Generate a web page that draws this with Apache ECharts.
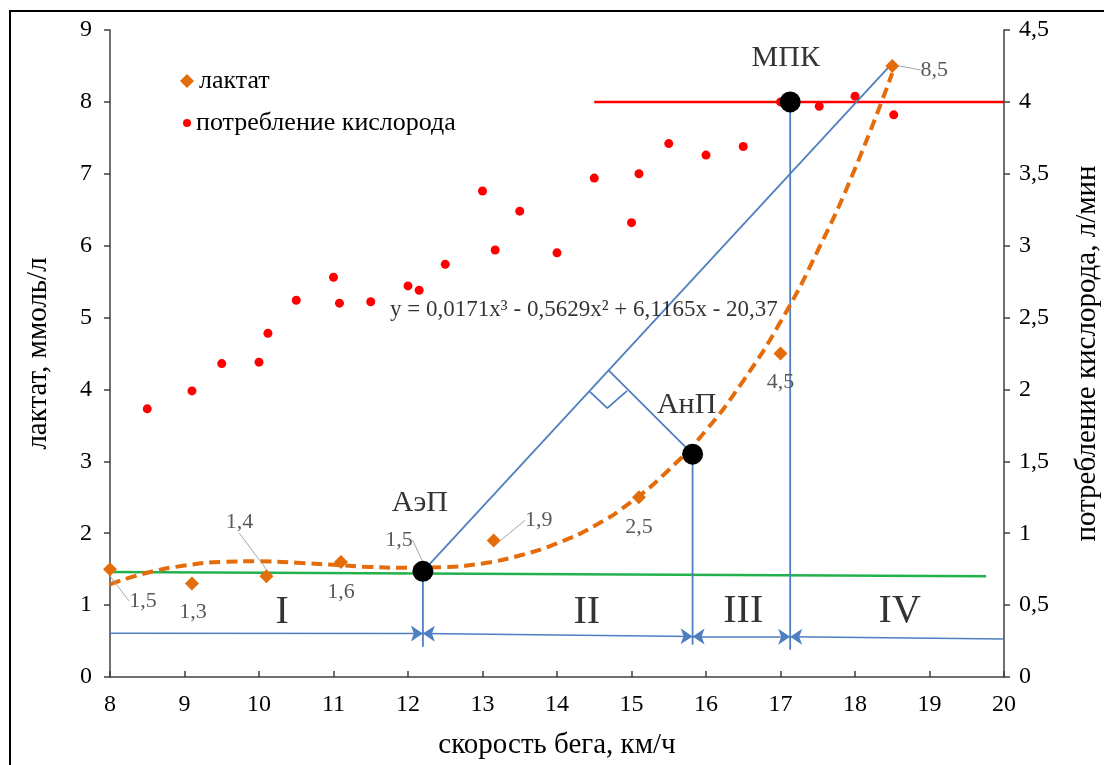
<!DOCTYPE html>
<html>
<head>
<meta charset="utf-8">
<script src="https://cdn.jsdelivr.net/npm/echarts/dist/echarts.min.js"></script>
<style>
html, body { margin: 0; padding: 0; background: #fff; }
#chart { width: 1104px; height: 765px; }
</style>
</head>
<body>
<div id="chart"></div>
<script>
// лактат (левая ось)
const lactSpeed = [8, 9.1, 10.1, 11.1, 12.2, 13.15, 15.1, 17, 18.5]
const lactate = [1.5, 1.3, 1.4, 1.6, 1.5, 1.9, 2.5, 4.5, 8.5]
const lactLabels = ['1,5', '1,3', '1,4', '1,6', '1,5', '1,9', '2,5', '4,5', '8,5']

// потребление кислорода (правая ось)
const o2Speed = [8.5, 9.1, 9.5, 10, 10.12, 10.5, 11, 11.08, 11.5, 12, 12.15, 12.5, 13, 13.17,
  13.5, 14, 14.5, 15, 15.1, 15.5, 16, 16.5, 17, 17.52, 18, 18.52]
const o2 = [1.865, 1.99, 2.18, 2.19, 2.39, 2.62, 2.78, 2.6, 2.61, 2.72, 2.69, 2.87, 3.38, 2.97,
  3.24, 2.95, 3.47, 3.16, 3.5, 3.71, 3.63, 3.69, 4.0, 3.97, 4.04, 3.91]

// линия тренда
const trendSpeed = [8, 8.5, 9, 9.5, 10, 10.5, 11, 11.5, 12, 12.5, 13, 13.5, 14, 14.5, 15, 15.5,
  16, 16.5, 17, 17.5, 18, 18.5]
const trendLact = [1.29, 1.45, 1.55, 1.6, 1.61, 1.59, 1.56, 1.53, 1.52, 1.53, 1.58, 1.69, 1.86,
  2.1, 2.44, 2.88, 3.43, 4.12, 4.94, 5.93, 7.07, 8.4]

// пороги: АэП, АнП, МПК
const thrSpeed = [12.2, 15.82, 17.13]
const thrLact = [1.47, 3.1, 8.0]

// вспомогательные построения
const greenLine = [[8, 1.46], [19.76, 1.40]]
const redLine = [[14.5, 8.0], [20, 8.0]]
const tangent = [[12.2, 1.47], [18.52, 8.56]]
const normal = [[15.82, 3.1], [14.69, 4.27]]
const rightAngle = [[14.44, 3.97], [14.675, 3.74], [14.94, 3.98]]
const drops = [
  [[12.2, 1.47], [12.2, 0.42]],
  [[15.82, 3.1], [15.82, 0.45]],
  [[17.13, 8.0], [17.13, 0.38]]
]
const spanIn = [[[8, 0.61], [12.2, 0.605]]]
const spanBoth = [[[12.2, 0.605], [15.82, 0.565]], [[15.82, 0.565], [17.13, 0.56]]]
const spanOut = [[[17.13, 0.56], [20, 0.53]]]

// подписи
const notes = [
  { name: 'МПК', value: [17.07, 8.61], size: 30 },
  { name: 'АнП', value: [15.74, 3.78], size: 30 },
  { name: 'АэП', value: [12.16, 2.42], size: 30 },
  { name: 'I', value: [10.31, 0.9], size: 40 },
  { name: 'II', value: [14.4, 0.9], size: 40 },
  { name: 'III', value: [16.5, 0.91], size: 40 },
  { name: 'IV', value: [18.6, 0.91], size: 40 }
]
const equation = 'y = 0,0171x³ - 0,5629x² + 6,1165x - 20,37'
const equationAt = [11.76, 5.11]

const labelShift = [[33, 32], [1, 29], [-27, -54], [0, 30], [-24, -29], [45, -20], [0, 30], [0, 29], [42, 4]]
const leader = [true, false, true, false, true, true, false, false, true]

const FONT = '"Liberation Serif", "Times New Roman", serif'
const ORANGE = '#e46c0a'
const BLUE = '#4e7fc0'

const chart = echarts.init(document.getElementById('chart'))

function seg (data, color, width) {
  return {
    type: 'line', data: data, showSymbol: false, symbol: 'none', silent: true,
    lineStyle: { color: color, width: width }, z: 3
  }
}
function arrows (data, sym) {
  return {
    type: 'lines', coordinateSystem: 'cartesian2d', silent: true, z: 3,
    symbol: sym, symbolSize: 12,
    lineStyle: { color: BLUE, width: 1.5, opacity: 1 },
    data: data.map(c => ({ coords: c }))
  }
}

const series = [
  seg(greenLine, '#22b14c', 2.5),
  seg(redLine, '#ff0000', 2.5),
  seg(tangent, BLUE, 1.8),
  seg(normal, BLUE, 1.8),
  seg(rightAngle, BLUE, 1.8),
  ...drops.map(d => seg(d, BLUE, 1.8)),
  arrows(spanIn, ['none', 'arrow']),
  arrows(spanBoth, ['arrow', 'arrow']),
  arrows(spanOut, ['arrow', 'none']),
  {
    type: 'line', name: 'trend', smooth: true, showSymbol: false, silent: true, z: 4,
    data: trendSpeed.map((x, i) => [x, trendLact[i]]),
    lineStyle: { color: ORANGE, width: 4, type: [11, 6] }
  },
  {
    type: 'scatter', name: 'потребление кислорода', yAxisIndex: 1, symbol: 'circle', symbolSize: 9, z: 4,
    itemStyle: { color: '#ff0000', opacity: 1 },
    data: o2Speed.map((x, i) => [x, o2[i]])
  },
  {
    type: 'scatter', name: 'лактат', symbol: 'diamond', symbolSize: 14, z: 5,
    itemStyle: { color: ORANGE, opacity: 1 },
    data: lactSpeed.map((x, i) => ({ value: [x, lactate[i]], labelLine: { show: leader[i] } })),
    label: {
      show: true, position: 'inside', formatter: p => lactLabels[p.dataIndex],
      fontFamily: FONT, fontSize: 22, color: '#595959'
    },
    labelLine: { show: false, lineStyle: { color: '#a6a6a6', width: 1 } },
    labelLayout: p => ({ dx: labelShift[p.dataIndex][0], dy: labelShift[p.dataIndex][1] })
  },
  {
    type: 'scatter', name: 'thresholds', symbol: 'circle', symbolSize: 21, z: 6, silent: true,
    itemStyle: { color: '#000', opacity: 1 },
    data: thrSpeed.map((x, i) => [x, thrLact[i]])
  },
  {
    type: 'scatter', name: 'notes', symbolSize: 0, silent: true, z: 7,
    data: notes.map(n => ({
      name: n.name, value: n.value,
      label: { fontSize: n.size }
    })).concat([{
      name: equation, value: equationAt,
      label: { fontSize: 23, align: 'left' }
    }]),
    label: {
      show: true, position: [0, 0], formatter: '{b}', align: 'center', verticalAlign: 'middle',
      fontFamily: FONT, color: '#000'
    }
  }
]

const axisCommon = {
  type: 'value',
  splitLine: { show: false },
  axisLine: { show: true, lineStyle: { color: '#404040', width: 1.5 } },
  axisTick: { show: true, length: 6, lineStyle: { color: '#404040', width: 1.5 } },
  axisLabel: { fontFamily: FONT, fontSize: 24, color: '#000' },
  nameLocation: 'middle',
  nameTextStyle: { fontFamily: FONT, fontSize: 29, color: '#000' }
}

const option = {
  animation: false,
  backgroundColor: '#fff',
  grid: { left: 110, right: 100, top: 30, bottom: 88, containLabel: false, outerBoundsMode: 'none' },
  legend: [
    {
      data: [{ name: 'лактат', icon: 'diamond' }],
      left: 180, top: 68, padding: 0, itemWidth: 14, itemHeight: 14,
      selectedMode: false,
      textStyle: { fontFamily: FONT, fontSize: 26, color: '#000' }
    },
    {
      data: [{ name: 'потребление кислорода', icon: 'circle' }],
      left: 183, top: 110, padding: 0, itemWidth: 8, itemHeight: 8,
      selectedMode: false,
      textStyle: { fontFamily: FONT, fontSize: 26, color: '#000' }
    }
  ],
  xAxis: Object.assign({}, axisCommon, {
    min: 8, max: 20, interval: 1,
    name: 'скорость бега, км/ч', nameGap: 54,
    axisTick: Object.assign({}, axisCommon.axisTick, { inside: true }),
    axisLabel: Object.assign({}, axisCommon.axisLabel, { margin: 16 })
  }),
  yAxis: [
    Object.assign({}, axisCommon, {
      min: 0, max: 9, interval: 1,
      name: 'лактат, ммоль/л', nameGap: 57,
      axisLabel: Object.assign({}, axisCommon.axisLabel, { margin: 18 })
    }),
    Object.assign({}, axisCommon, {
      min: 0, max: 4.5, interval: 0.5, position: 'right',
      name: 'потребление кислорода, л/мин', nameGap: 69,
      axisLabel: Object.assign({}, axisCommon.axisLabel, {
        margin: 15, formatter: v => String(v).replace('.', ',')
      })
    })
  ],
  graphic: [{
    type: 'rect', silent: true,
    shape: { x: 10, y: 11, width: 1300, height: 900 },
    style: { fill: 'none', stroke: '#000', lineWidth: 2 }
  }],
  series: series
}

chart.setOption(option)
</script>
</body>
</html>
